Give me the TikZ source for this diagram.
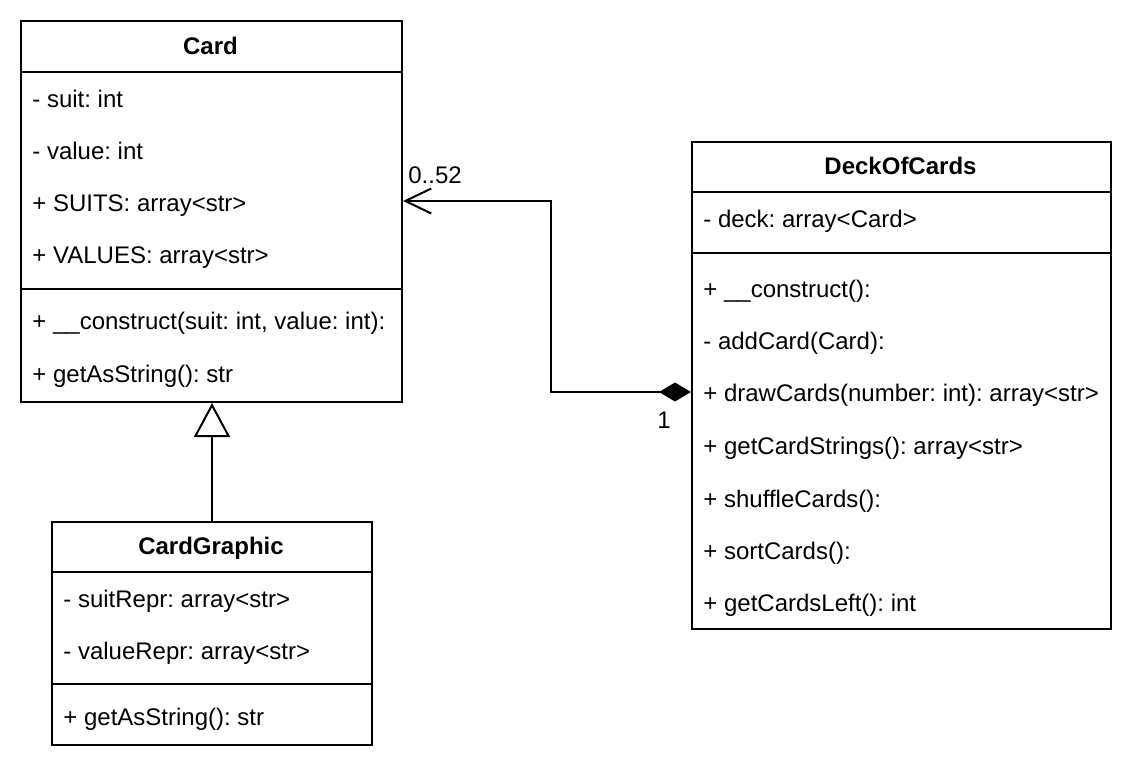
\documentclass[tikz,border=0pt]{standalone}
\usepackage{fontspec}
\setmainfont{Liberation Sans}
\usetikzlibrary{arrows.meta}
\frenchspacing
\tikzset{
  uml/.style={draw, line width=1pt, anchor=north west, inner sep=0pt, fill=white},
  sepline/.style={line width=1pt},
  rowtext/.style={anchor=base west, inner sep=0pt, font=\fontsize{12}{14}\selectfont},
  headtext/.style={anchor=base, inner sep=0pt, font=\fontsize{12}{14}\selectfont\bfseries},
  conn/.style={line width=1pt},
  lbl/.style={anchor=base west, inner sep=0pt, font=\fontsize{12}{14}\selectfont}
}
\begin{document}
\frenchspacing
\begin{tikzpicture}[x=0.5pt,y=-0.5pt]
\useasboundingbox (0,0) rectangle (1132,772);
% Card
\node[uml, minimum width=190.5pt, minimum height=190.5pt] (card) at (20,20) {};
\draw[sepline] (20,72) -- (401,72);
\draw[sepline] (20,289) -- (401,289);
\node[headtext] (cardh) at (210.5,54) {Card};
\node[rowtext] (c1) at (32,107) {- suit: int};
\node[rowtext] (c2) at (32,159) {- value: int};
\node[rowtext] (c3) at (32,211) {+ SUITS: array<str>};
\node[rowtext] (c4) at (32,263) {+ VALUES: array<str>};
\node[rowtext] (c5) at (32,329) {+ \_\_construct(suit: int, value: int):};
\node[rowtext] (c6) at (32,382) {+ getAsString(): str};
% DeckOfCards
\node[uml, minimum width=209.5pt, minimum height=243.5pt] (deck) at (691,141) {};
\draw[sepline] (691,192) -- (1110,192);
\draw[sepline] (691,253) -- (1110,253);
\node[headtext] (deckh) at (900.5,174) {DeckOfCards};
\node[rowtext] (d1) at (703,227) {- deck: array<Card>};
\node[rowtext] (d2) at (703,297) {+ \_\_construct():};
\node[rowtext] (d3) at (703,349) {- addCard(Card):};
\node[rowtext] (d4) at (703,401) {+ drawCards(number: int): array<str>};
\node[rowtext] (d5) at (703,454) {+ getCardStrings(): array<str>};
\node[rowtext] (d6) at (703,507) {+ shuffleCards():};
\node[rowtext] (d7) at (703,559) {+ sortCards():};
\node[rowtext] (d8) at (703,611) {+ getCardsLeft(): int};
% CardGraphic
\node[uml, minimum width=160pt, minimum height=111.5pt] (cg) at (51,521) {};
\draw[sepline] (51,572) -- (371,572);
\draw[sepline] (51,684) -- (371,684);
\node[headtext] (cgh) at (211,554) {CardGraphic};
\node[rowtext] (g1) at (63,607) {- suitRepr: array<str>};
\node[rowtext] (g2) at (63,659) {- valueRepr: array<str>};
\node[rowtext] (g3) at (63,725) {+ getAsString(): str};
% Inheritance
\draw[conn, -{Triangle[open,length=17pt,width=18pt]}] (cg.north) -- (cg.north |- card.south);
% Composition
\draw[conn, {Diamond[length=16pt,width=9.5pt]}-{Straight Barb[length=13pt,width=12.5pt]}]
  (deck.west |- 0,392) -- (551,392) |- (card.east |- 0,201);
\node[lbl] (m1) at (408,183) {0..52};
\node[lbl] (m2) at (657,428) {1};
\end{tikzpicture}
\end{document}
